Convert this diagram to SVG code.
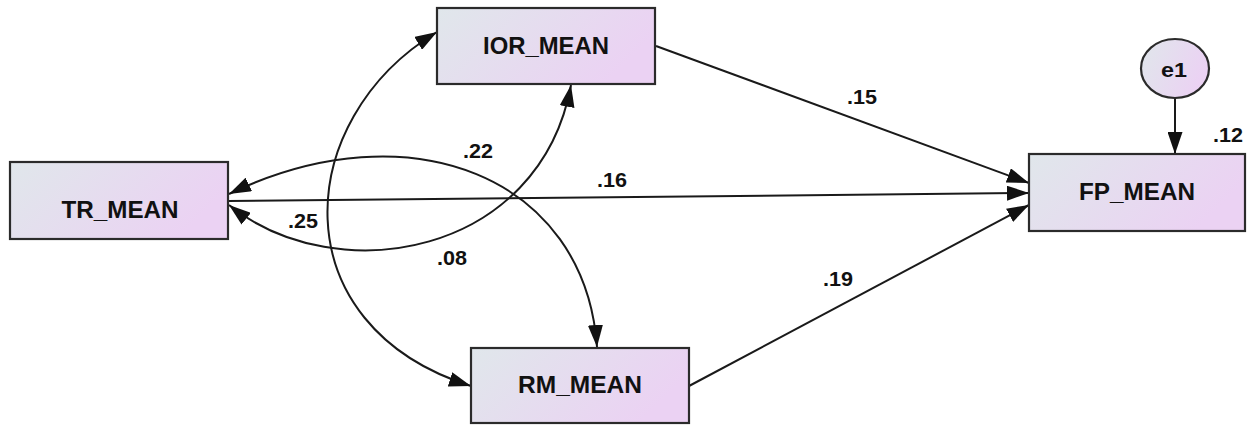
<svg xmlns="http://www.w3.org/2000/svg" width="1254" height="425" viewBox="0 0 1254 425">
<style>
.box{fill:url(#g);stroke:#2b2b2b;stroke-width:2.2}
.lbl{font-family:"Liberation Sans",Arial,sans-serif;font-weight:bold;font-size:23px;fill:#111;text-anchor:middle}
.num{font-family:"Liberation Sans",Arial,sans-serif;font-weight:bold;font-size:19.5px;fill:#111;text-anchor:middle}
.c{fill:none;stroke:#1a1a1a;stroke-width:2}
.one{marker-end:url(#ah)}
.two{marker-start:url(#ah);marker-end:url(#ah)}
</style>
<defs>
<linearGradient id="g" x1="0" y1="0" x2="1" y2="0.35">
<stop offset="0" stop-color="#e0e7eb"/>
<stop offset="1" stop-color="#ebd2f3"/>
</linearGradient>
<marker id="ah" viewBox="0 0 22 15" refX="22" refY="7.5" markerWidth="22" markerHeight="15" markerUnits="userSpaceOnUse" orient="auto-start-reverse">
<path d="M0,0 L22,7.5 L0,15 Z" fill="#111"/>
</marker>
</defs>
<rect width="1254" height="425" fill="#ffffff"/>
<g id="connectors">
<path class="c one" d="M656,46 L1029,183"/>
<path class="c one" d="M228,201 L1029,193"/>
<path class="c one" d="M689,386 L1029,205"/>
<path class="c one" d="M1175,98 L1175,154"/>
<path class="c two" d="M437,32 C291,120 280,326 471,386"/>
<path class="c two" d="M229,194 C410,107 585,177 597,347"/>
<path class="c two" d="M229,205 C338,292 540,255 571,85"/>
</g>
<g id="labels">
<text class="num" x="862" y="104" textLength="30" lengthAdjust="spacingAndGlyphs">.15</text>
<text class="num" x="612" y="187" textLength="30" lengthAdjust="spacingAndGlyphs">.16</text>
<text class="num" x="838" y="286" textLength="30" lengthAdjust="spacingAndGlyphs">.19</text>
<text class="num" x="478" y="158" textLength="30" lengthAdjust="spacingAndGlyphs">.22</text>
<text class="num" x="303" y="228" textLength="30" lengthAdjust="spacingAndGlyphs">.25</text>
<text class="num" x="452" y="265" textLength="30" lengthAdjust="spacingAndGlyphs">.08</text>
<text class="num" x="1228" y="142" textLength="30" lengthAdjust="spacingAndGlyphs">.12</text>
</g>
<g id="IOR_MEAN">
<rect class="box" x="437" y="8" width="218" height="76"/>
<text class="lbl" x="546" y="54" textLength="126" lengthAdjust="spacingAndGlyphs">IOR_MEAN</text>
</g>
<g id="TR_MEAN">
<rect class="box" x="10" y="162" width="218" height="77"/>
<text class="lbl" x="120" y="218" textLength="117" lengthAdjust="spacingAndGlyphs">TR_MEAN</text>
</g>
<g id="RM_MEAN">
<rect class="box" x="471" y="348" width="218" height="75"/>
<text class="lbl" x="580" y="393" textLength="124" lengthAdjust="spacingAndGlyphs">RM_MEAN</text>
</g>
<g id="FP_MEAN">
<rect class="box" x="1029" y="154" width="216" height="77"/>
<text class="lbl" x="1137" y="200" textLength="116" lengthAdjust="spacingAndGlyphs">FP_MEAN</text>
</g>
<g id="e1">
<ellipse class="box" cx="1175" cy="68.5" rx="34" ry="29.5"/>
<text class="num" x="1174" y="77" font-size="20" textLength="26" lengthAdjust="spacingAndGlyphs">e1</text>
</g>
</svg>
